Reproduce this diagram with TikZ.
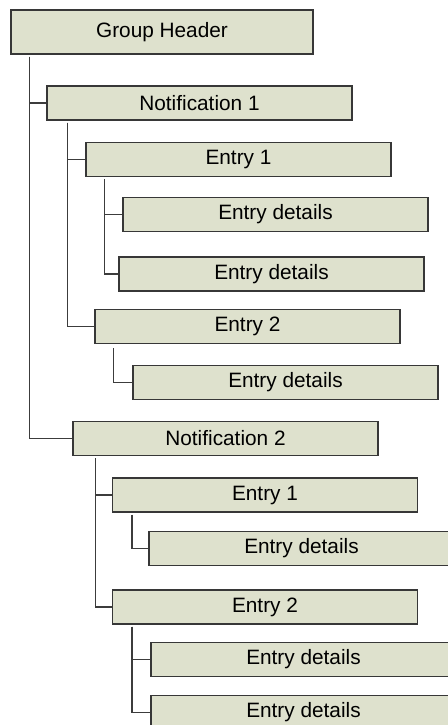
\documentclass[tikz,border=0pt]{standalone}
\usepackage{fontspec}
\setmainfont{Liberation Sans}
\usetikzlibrary{calc}
\definecolor{boxfill}{RGB}{222,225,205}
\definecolor{boxline}{RGB}{55,55,55}
\definecolor{conn}{RGB}{60,60,60}
\begin{document}
\begin{tikzpicture}[x=0.75pt,y=-0.75pt,
  tbox/.style={draw=boxline,fill=boxfill,line width=0.8pt,minimum width=228.75pt,minimum height=25.5pt,inner sep=0pt,font=\fontsize{15.6}{18}\selectfont},
  link/.style={draw=conn,line width=0.8pt}]
\useasboundingbox (0,0) rectangle (448,725);
\clip (0,0) rectangle (448,725);
\node[tbox,minimum width=226.5pt,minimum height=33pt] (gh) at (162,32) {Group Header};
\node[tbox] (n1) at (199.5,103) {Notification 1};
\node[tbox] (e11) at (238.5,159.5) {Entry 1};
\node[tbox] (d111) at (275.5,214.5) {Entry details};
\node[tbox] (d112) at (271.5,274) {Entry details};
\node[tbox] (e12) at (247.5,326.5) {Entry 2};
\node[tbox] (d121) at (285.5,382.5) {Entry details};
\node[tbox] (n2) at (225.5,438.5) {Notification 2};
\node[tbox] (e21) at (265,495) {Entry 1};
\node[tbox] (d211) at (301.5,548.5) {Entry details};
\node[tbox] (e22) at (265,607) {Entry 2};
\node[tbox] (d221) at (303.5,659.5) {Entry details};
\node[tbox] (d222) at (303.5,712.5) {Entry details};
% connectors
\draw[link] ($(gh.south west)+(19,2)$) |- (n1.west);
\draw[link] ($(gh.south west)+(19,2)$) |- (n2.west);
\draw[link] ($(n1.south west)+(21,2)$) |- (e11.west);
\draw[link] ($(n1.south west)+(21,2)$) |- (e12.west);
\draw[link] ($(e11.south west)+(19,2)$) |- (d111.west);
\draw[link] ($(e11.south west)+(19,2)$) |- (d112.west);
\draw[link] ($(e12.south west)+(19,4)$) |- (d121.west);
\draw[link] ($(n2.south west)+(23,2)$) |- (e21.west);
\draw[link] ($(n2.south west)+(23,2)$) |- (e22.west);
\draw[link] ($(e21.south west)+(20,2)$) |- (d211.west);
\draw[link] ($(e22.south west)+(20,2)$) |- (d221.west);
\draw[link] ($(e22.south west)+(20,2)$) |- (d222.west);
\end{tikzpicture}
\end{document}
